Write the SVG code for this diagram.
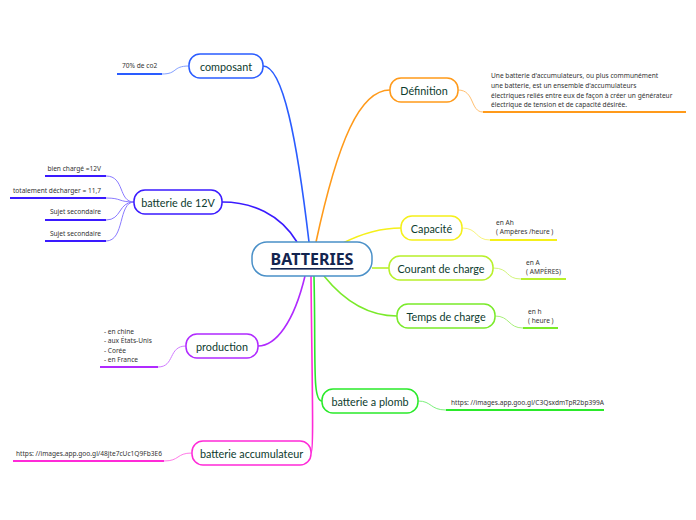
<svg xmlns="http://www.w3.org/2000/svg" width="696" height="520" viewBox="0 0 696 520">
<style>
.node{fill:#fff;stroke-width:1.5}
.lbl{font-family:Lato,"Noto Sans",sans-serif;font-size:10.8px;fill:#0c3b2e;text-anchor:middle;dominant-baseline:central}
.sub{font-family:"Noto Sans","Open Sans",sans-serif;font-size:6.6px;fill:#333}
.c{fill:none;stroke-width:1.6}
.cs{fill:none;stroke-width:1}
.ul{fill:none;stroke-width:2.2}
</style>
<rect width="696" height="520" fill="#fff"/>
<g id="connectors">
<path class="c" stroke="#2a5cff" d="M309,242 C297,140 283,66 263,66"/>
<path class="c" stroke="#ff9a1a" d="M316,242 C338,140 360,90 390,90"/>
<path class="c" stroke="#3a1aff" d="M297,242 C280,214 252,202 222,202"/>
<path class="c" stroke="#f5f01a" d="M343,243 C365,232 382,228 401,228"/>
<path class="c" stroke="#b8f02a" d="M372,268 L389,268"/>
<path class="c" stroke="#7aea2a" d="M324,276 C345,302 370,316 397,316"/>
<path class="c" stroke="#2aea2a" d="M314,276 C316,360 312,401 322,401"/>
<path class="c" stroke="#b02aff" d="M305,276 C294,322 276,346 258,346"/>
<path class="c" stroke="#ff2ad8" d="M311,276 C312,380 314,453 311,453"/>
<path class="cs" stroke="#7f9dff" d="M162,74 C178,74 172,66 189,66"/>
<path class="cs" stroke="#ffbf70" d="M458,90 C475,90 470,112 483,112"/>
<path class="cs" stroke="#8a7aff" d="M106,176 C125,176 118,202 134,202"/>
<path class="cs" stroke="#8a7aff" d="M106,198 C122,198 118,202 134,202"/>
<path class="cs" stroke="#8a7aff" d="M106,220 C122,220 118,202 134,202"/>
<path class="cs" stroke="#8a7aff" d="M106,241 C125,241 118,202 134,202"/>
<path class="cs" stroke="#f8f47a" d="M462,228 C478,228 475,240 490,240"/>
<path class="cs" stroke="#d2f57a" d="M493,268 C510,268 505,279 521,279"/>
<path class="cs" stroke="#a8f07a" d="M495,316 C510,316 508,328 523,328"/>
<path class="cs" stroke="#7af07a" d="M418,401 C432,401 430,410 446,410"/>
<path class="cs" stroke="#d07aff" d="M158,367 C175,367 168,346 186,346"/>
<path class="cs" stroke="#ff7ae8" d="M164,461 C180,461 176,453 192,453"/>
<path class="ul" stroke="#2a5cff" d="M117,74 H162"/>
<path class="ul" stroke="#ff9a1a" d="M483,112 H686"/>
<path class="ul" stroke="#3a1aff" d="M45,176 H106 M10,198 H106 M45,220 H106 M45,241 H106"/>
<path class="ul" stroke="#f5f01a" d="M490,240 H557"/>
<path class="ul" stroke="#b8f02a" d="M521,279 H566"/>
<path class="ul" stroke="#7aea2a" d="M523,328 H558"/>
<path class="ul" stroke="#2aea2a" d="M446,410 H604"/>
<path class="ul" stroke="#b02aff" d="M100,367 H158"/>
<path class="ul" stroke="#ff2ad8" d="M13,461 H164"/>
</g>
<g id="n-batteries">
<rect class="node" x="252" y="242" width="120" height="34" rx="15" stroke="#4a90c8"/>
<text x="312" y="259" font-family="'Noto Sans','Open Sans',sans-serif" font-size="16" font-weight="bold" fill="#13244f" text-anchor="middle" dominant-baseline="central" text-decoration="underline">BATTERIES</text>
</g>
<g id="n-composant">
<rect class="node" x="189" y="54" width="74" height="24" rx="11" stroke="#2a5cff"/>
<text class="lbl" x="226" y="66">composant</text>
<text class="sub" x="122" y="68">70% de co2</text>
</g>
<g id="n-definition">
<rect class="node" x="390" y="78" width="68" height="24" rx="11" stroke="#ff9a1a"/>
<text class="lbl" x="424" y="90">Définition</text>
<text class="sub" x="491" y="78">Une batterie d'accumulateurs, ou plus communément</text>
<text class="sub" x="491" y="88">une batterie, est un ensemble d'accumulateurs</text>
<text class="sub" x="491" y="98">électriques reliés entre eux de façon à créer un générateur</text>
<text class="sub" x="491" y="107">électrique de tension et de capacité désirée.</text>
</g>
<g id="n-12v">
<rect class="node" x="134" y="190" width="88" height="24" rx="11" stroke="#3a1aff"/>
<text class="lbl" x="178" y="202">batterie de 12V</text>
<text class="sub" x="101" y="171" text-anchor="end">bien chargé =12V</text>
<text class="sub" x="101" y="193" text-anchor="end">totalement décharger = 11,7</text>
<text class="sub" x="101" y="214" text-anchor="end">Sujet secondaire</text>
<text class="sub" x="101" y="236" text-anchor="end">Sujet secondaire</text>
</g>
<g id="n-capacite">
<rect class="node" x="401" y="216" width="61" height="24" rx="11" stroke="#f5f01a"/>
<text class="lbl" x="431.5" y="228">Capacité</text>
<text class="sub" x="496" y="225">en Ah</text>
<text class="sub" x="496" y="234">( Ampères /heure )</text>
</g>
<g id="n-courant">
<rect class="node" x="389" y="256" width="104" height="24" rx="11" stroke="#b8f02a"/>
<text class="lbl" x="441" y="268">Courant de charge</text>
<text class="sub" x="526" y="265">en A</text>
<text class="sub" x="526" y="274">( AMPÈRES)</text>
</g>
<g id="n-temps">
<rect class="node" x="397" y="304" width="98" height="24" rx="11" stroke="#7aea2a"/>
<text class="lbl" x="446" y="316">Temps de charge</text>
<text class="sub" x="528" y="314">en h</text>
<text class="sub" x="528" y="323">( heure )</text>
</g>
<g id="n-plomb">
<rect class="node" x="322" y="389" width="96" height="24" rx="11" stroke="#2aea2a"/>
<text class="lbl" x="370" y="401">batterie a plomb</text>
<text class="sub" x="451" y="405">https: //images.app.goo.gl/C3QsxdmTpR2bp399A</text>
</g>
<g id="n-production">
<rect class="node" x="186" y="334" width="72" height="24" rx="11" stroke="#b02aff"/>
<text class="lbl" x="222" y="346">production</text>
<text class="sub" x="104" y="334">- en chine</text>
<text class="sub" x="104" y="343">- aux États-Unis</text>
<text class="sub" x="104" y="353">- Corée</text>
<text class="sub" x="104" y="362">- en France</text>
</g>
<g id="n-accumulateur">
<rect class="node" x="192" y="441" width="119" height="24" rx="11" stroke="#ff2ad8"/>
<text class="lbl" x="251.5" y="453">batterie accumulateur</text>
<text class="sub" x="16" y="456">https: //images.app.goo.gl/48jte7cUc1Q9Fb3E6</text>
</g>
</svg>
